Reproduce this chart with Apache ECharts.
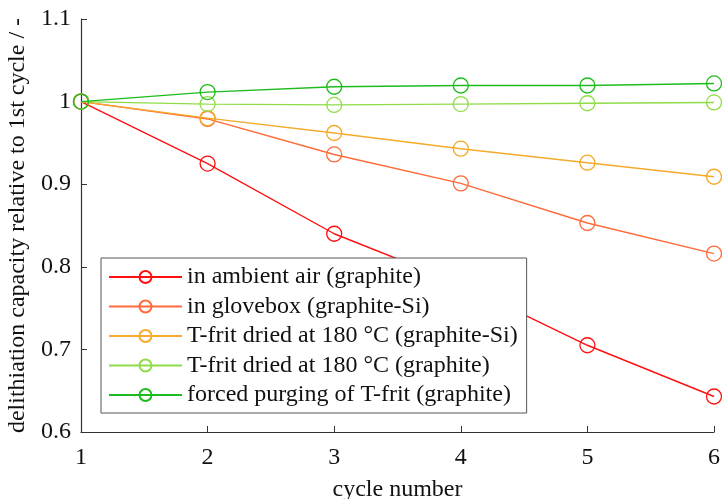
<!DOCTYPE html>
<html>
<head>
<meta charset="utf-8">
<script src="https://cdn.jsdelivr.net/npm/echarts@6/dist/echarts.min.js"></script>
<style>html,body{margin:0;padding:0;background:#fff;}#c{width:722px;height:499px;}</style>
</head>
<body>
<div id="c"></div>
<script>
const cycles = [1, 2, 3, 4, 5, 6];
const seriesNames = [
  'in ambient air (graphite)',
  'in glovebox (graphite-Si)',
  'T-frit dried at 180 °C (graphite-Si)',
  'T-frit dried at 180 °C (graphite)',
  'forced purging of T-frit (graphite)'
];
const ambientAir = [1.0, 0.925, 0.840, 0.779, 0.705, 0.643];
const glovebox = [1.0, 0.979, 0.936, 0.901, 0.853, 0.816];
const tfritGraphiteSi = [1.0, 0.980, 0.962, 0.943, 0.926, 0.909];
const tfritGraphite = [1.0, 0.997, 0.996, 0.997, 0.998, 0.999];
const forcedPurging = [1.0, 1.0115, 1.018, 1.0195, 1.0195, 1.022];
const colors = ['#ff1010', '#ff6a38', '#f4aa2a', '#8fdc48', '#1ebb1e'];
const allData = [ambientAir, glovebox, tfritGraphiteSi, tfritGraphite, forcedPurging];

const font = 'Liberation Serif';
const chart = echarts.init(document.getElementById('c'));
chart.setOption({
  animation: false,
  backgroundColor: '#fff',
  grid: { left: 81, right: 8, top: 19, bottom: 67, containLabel: false, outerBoundsMode: 'none' },
  xAxis: {
    type: 'value', min: 1, max: 6, interval: 1,
    name: 'cycle number', nameLocation: 'middle', nameGap: 46,
    nameTextStyle: { fontFamily: font, fontSize: 24, color: '#111' },
    axisLine: { onZero: false, lineStyle: { color: '#333', width: 1.2 } },
    axisTick: { inside: true, length: 6, lineStyle: { color: '#333' } },
    axisLabel: { fontFamily: font, fontSize: 24, color: '#111', margin: 14 },
    splitLine: { show: false }
  },
  yAxis: {
    type: 'value', min: 0.6, max: 1.1, interval: 0.1,
    name: 'delithiation capacity relative to 1st cycle / -', nameLocation: 'middle', nameRotate: 90, nameGap: 44,
    nameTextStyle: { fontFamily: font, fontSize: 24, color: '#111' },
    axisLine: { show: true, onZero: false, lineStyle: { color: '#333', width: 1.2 } },
    axisTick: { show: true, inside: true, length: 6, lineStyle: { color: '#333' } },
    axisLabel: { fontFamily: font, fontSize: 24, color: '#111', margin: 10,
      formatter: v => String(parseFloat(v.toFixed(2))) },
    splitLine: { show: false }
  },
  legend: {
    orient: 'vertical', left: 101, top: 258,
    padding: [7, 9, 6, 7],
    backgroundColor: '#fff', borderColor: '#555', borderWidth: 1, borderRadius: 0,
    itemWidth: 73, itemHeight: 15, itemGap: 5.5,
    textStyle: { fontFamily: font, fontSize: 24, color: '#111', lineHeight: 24 },
    data: seriesNames
  },
  series: seriesNames.map((n, i) => ({
    name: n, type: 'line',
    data: cycles.map((c, j) => [c, allData[i][j]]),
    symbol: 'circle', symbolSize: 15, showAllSymbol: true,
    itemStyle: { color: 'rgba(255,255,255,0)', borderColor: colors[i], borderWidth: 1.3 },
    lineStyle: { color: colors[i], width: 1.4 },
    z: 2 + i
  }))
});
</script>
</body>
</html>
